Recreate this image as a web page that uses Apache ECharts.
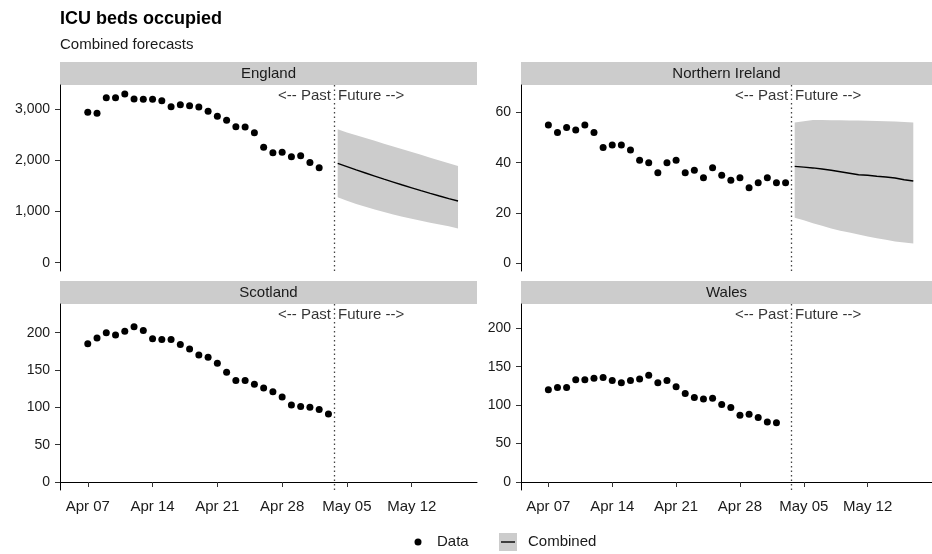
<!DOCTYPE html>
<html>
<head>
<meta charset="utf-8">
<script src="https://cdn.jsdelivr.net/npm/echarts@6/dist/echarts.min.js"></script>
<style>
html,body{margin:0;padding:0;background:#fff;}
#chart{width:932px;height:554px;}
</style>
</head>
<body>
<div id="chart"></div>
<script>
// ---------- data ----------
// x values are days since Apr 07
const tickDays = [0, 7, 14, 21, 28, 35];
const tickLabels = ['Apr 07', 'Apr 14', 'Apr 21', 'Apr 28', 'May 05', 'May 12'];
const splitDay = 26.6;          // Past / Future divider
const forecastStartDay = 27;    // May 04

const englandPast = [2942,2922,3229,3229,3301,3203,3196,3196,3170,3053,3092,3072,3046,2962,2864,2785,2661,2655,2544,2257,2153,2159,2074,2094,1963,1859];
const englandMed  = [1944,1880,1815,1755,1695,1635,1578,1520,1465,1410,1357,1305,1255,1207];
const englandLo   = [1279,1212,1150,1093,1040,990,943,899,858,820,783,748,712,668];
const englandHi   = [2610,2550,2495,2440,2385,2330,2275,2220,2165,2110,2055,2000,1945,1892];

const niPast = [55,52,54,53,55,52,46,47,47,45,41,40,36,40,41,36,37,34,38,35,33,34,30,32,34,32,32];
const niMed  = [38.5,38.2,37.9,37.5,37.0,36.4,35.8,35.2,35.0,34.6,34.3,33.9,33.2,32.7];
const niLo   = [18.0,17.0,15.8,14.8,13.8,12.9,12.2,11.4,10.6,9.9,9.3,8.6,8.2,7.8];
const niHi   = [56.0,56.5,57.0,57.0,56.9,56.9,56.8,56.8,56.7,56.6,56.5,56.4,56.2,56.0];

const scotlandPast = [185,193,200,197,202,208,203,192,191,191,184,178,170,167,159,147,136,136,131,126,121,114,103,101,100,97,91];
const walesPast = [120,123,123,133,133,135,136,132,129,132,134,139,129,132,124,115,110,108,109,101,97,87,88,84,78,77];

const panelNames = ['England', 'Northern Ireland', 'Scotland', 'Wales'];
const yTicks = [[0,1000,2000,3000],[0,20,40,60],[0,50,100,150,200],[0,50,100,150,200]];
const yRanges = [[-162,3477],[-3.19,70.96],[-10.7,238.4],[-10.4,231.6]];
const xRange = [-3.0, 42.05];

// ---------- layout ----------
const grids = [
  {left: 60,  top: 85,  width: 417, height: 186},
  {left: 521, top: 85,  width: 417, height: 186},
  {left: 60,  top: 304, width: 417, height: 186},
  {left: 521, top: 304, width: 417, height: 186}
];
const stripH = 23;
const FONT = '"Liberation Sans", Arial, sans-serif';
const BAND = '#cccccc';

const pastData = [englandPast, niPast, scotlandPast, walesPast];
const fc = [
  {med: englandMed, lo: englandLo, hi: englandHi},
  {med: niMed, lo: niLo, hi: niHi},
  null, null
];

const xAxes = [], yAxes = [], series = [], graphic = [];

grids.forEach((g, i) => {
  const bottomRow = i >= 2;
  xAxes.push({
    type: 'value', gridIndex: i, min: xRange[0], max: xRange[1],
    splitLine: {show: false},
    axisLine: {show: bottomRow, lineStyle: {color: '#000', width: 1}},
    axisTick: {show: bottomRow, length: 5, lineStyle: {color: '#333'}, customValues: tickDays},
    axisLabel: {
      show: bottomRow, customValues: tickDays, margin: 9,
      fontFamily: FONT, fontSize: 15, color: '#1a1a1a',
      formatter: v => { const k = tickDays.indexOf(Math.round(v)); return k >= 0 ? tickLabels[k] : ''; }
    }
  });
  yAxes.push({
    type: 'value', gridIndex: i, min: yRanges[i][0], max: yRanges[i][1],
    splitLine: {show: false},
    axisLine: {show: true, onZero: false, lineStyle: {color: '#000', width: 1}},
    axisTick: {show: true, length: 5, lineStyle: {color: '#333'}, customValues: yTicks[i]},
    axisLabel: {
      customValues: yTicks[i], margin: 10,
      fontFamily: FONT, fontSize: 14, color: '#1a1a1a',
      formatter: v => Math.round(v).toLocaleString('en-US')
    }
  });

  // forecast band + median
  if (fc[i]) {
    const f = fc[i];
    const bandData = f.lo.map((v, k) => [forecastStartDay + k, v, f.hi[k]]);
    series.push({
      name: 'Combined', type: 'custom', xAxisIndex: i, yAxisIndex: i, silent: true, z: 1,
      data: bandData,
      encode: {x: 0, y: [1, 2]},
      renderItem: function (params, api) {
        if (params.dataIndex !== 0) return null;
        const upper = bandData.map(d => api.coord([d[0], d[2]]));
        const lower = bandData.slice().reverse().map(d => api.coord([d[0], d[1]]));
        return {
          type: 'polygon',
          shape: {points: upper.concat(lower)},
          style: {fill: BAND}
        };
      }
    });
    series.push({
      type: 'line', xAxisIndex: i, yAxisIndex: i,
      data: f.med.map((v, k) => [forecastStartDay + k, v]),
      symbol: 'none', lineStyle: {color: '#000', width: 1.4}, silent: true, z: 3
    });
  }

  // observed data points + divider
  series.push({
    name: 'Data', type: 'scatter', xAxisIndex: i, yAxisIndex: i,
    data: pastData[i].map((v, k) => [k, v]),
    symbol: 'circle', symbolSize: 7, itemStyle: {color: '#000', opacity: 1}, z: 4,
    markLine: {
      silent: true, symbol: 'none', label: {show: false},
      lineStyle: {color: '#444', type: [1.5, 3], width: 1.3},
      data: [{xAxis: splitDay}]
    }
  });

  // Past / Future labels
  const yr = yRanges[i];
  const labelY = yr[1] - (yr[1] - yr[0]) * 11 / g.height;
  series.push({
    type: 'scatter', xAxisIndex: i, yAxisIndex: i, symbolSize: 0, silent: true,
    data: [
      {value: [splitDay, labelY], label: {formatter: '<-- Past', position: 'left', distance: 3}},
      {value: [splitDay, labelY], label: {formatter: 'Future -->', position: 'right', distance: 4}}
    ],
    label: {show: true, fontFamily: FONT, fontSize: 15, color: '#000'}
  });

  // strip
  const sw = (i % 2 === 0) ? 417 : 411;
  graphic.push({
    type: 'rect', silent: true,
    shape: {x: g.left, y: g.top - stripH, width: sw, height: stripH},
    style: {fill: BAND}
  });
  graphic.push({
    type: 'text', silent: true,
    x: g.left + sw / 2, y: g.top - stripH / 2,
    style: {text: panelNames[i], fontFamily: FONT, fontSize: 15, fill: '#1a1a1a', align: 'center', verticalAlign: 'middle'}
  });
});

// legend
graphic.push({type: 'circle', silent: true, shape: {cx: 418, cy: 542, r: 3.5}, style: {fill: '#000'}});
graphic.push({type: 'text', silent: true, x: 437, y: 542,
  style: {text: 'Data', fontFamily: FONT, fontSize: 15, fill: '#1a1a1a', verticalAlign: 'middle'}});
graphic.push({type: 'rect', silent: true, shape: {x: 499, y: 533, width: 18, height: 18}, style: {fill: BAND}});
graphic.push({type: 'line', silent: true, shape: {x1: 501, y1: 542, x2: 515, y2: 542}, style: {stroke: '#000', lineWidth: 1.4}});
graphic.push({type: 'text', silent: true, x: 528, y: 542,
  style: {text: 'Combined', fontFamily: FONT, fontSize: 15, fill: '#1a1a1a', verticalAlign: 'middle'}});

const chart = echarts.init(document.getElementById('chart'), null, {renderer: 'canvas'});
chart.setOption({
  backgroundColor: '#fff',
  animation: false,
  title: {
    text: 'ICU beds occupied', subtext: 'Combined forecasts',
    left: 60, top: 10, padding: 0, itemGap: 9,
    textStyle: {fontFamily: FONT, fontSize: 18, fontWeight: 'bold', color: '#000'},
    subtextStyle: {fontFamily: FONT, fontSize: 15, color: '#1a1a1a'}
  },
  grid: grids.map(g => Object.assign({containLabel: false}, g)),
  xAxis: xAxes,
  yAxis: yAxes,
  series: series,
  graphic: graphic
});
</script>
</body>
</html>
